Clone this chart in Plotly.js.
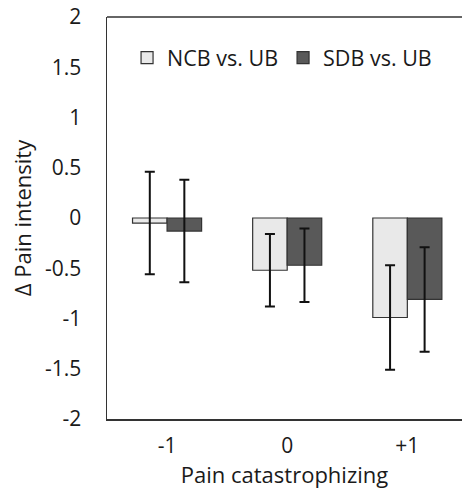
<!DOCTYPE html>
<html>
<head>
<meta charset="utf-8">
<script src="https://cdn.plot.ly/plotly-3.0.1.min.js"></script>
<style>html,body{margin:0;padding:0;background:#fff;}#chart{width:462px;height:489px;}</style>
</head>
<body>
<div id="chart"></div>
<script>
var categories = ["-1", "0", "+1"];
var seriesNames = ["NCB vs. UB", "SDB vs. UB"];
var ncbValues = [-0.05, -0.52, -0.99];
var ncbErrors = [0.51, 0.36, 0.52];
var sdbValues = [-0.13, -0.47, -0.81];
var sdbErrors = [0.51, 0.365, 0.52];
var yTicks = [-2, -1.5, -1, -0.5, 0, 0.5, 1, 1.5, 2];

var fontFam = "Open Sans, sans-serif";
var textColor = "#1a1a1a";
var errStyle = {type: "data", visible: true, thickness: 2, width: 5, color: "#111"};

var traces = [
  {type: "bar", name: seriesNames[0], x: categories, y: ncbValues,
   marker: {color: "#e9e9e9", line: {color: "#333", width: 1.2}},
   error_y: Object.assign({array: ncbErrors}, errStyle)},
  {type: "bar", name: seriesNames[1], x: categories, y: sdbValues,
   marker: {color: "#595959", line: {color: "#333", width: 1.2}},
   error_y: Object.assign({array: sdbErrors}, errStyle)}
];

var layout = {
  width: 462, height: 489,
  margin: {l: 107, r: 0, t: 17, b: 70},
  paper_bgcolor: "#fff", plot_bgcolor: "#fff",
  font: {family: fontFam, size: 21, color: textColor},
  barmode: "group", bargap: 0.425, bargroupgap: 0,
  showlegend: true,
  legend: {orientation: "h", x: 0.0565, xanchor: "left", y: 0.899, yanchor: "middle",
           font: {family: fontFam, size: 21.5, color: textColor}, bgcolor: "rgba(0,0,0,0)",
           traceorder: "normal", itemwidth: 30},
  xaxis: {type: "category", range: [-0.5, 2.455], showline: true, linecolor: "#333", linewidth: 1.5,
          ticks: "outside", ticklen: 7, tickcolor: "rgba(0,0,0,0)", showgrid: false, zeroline: false,
          tickfont: {family: fontFam, size: 21, color: textColor},
          automargin: false,
          title: {text: "Pain catastrophizing", font: {family: fontFam, size: 22, color: textColor}, standoff: 2},
          fixedrange: true},
  yaxis: {range: [-2, 2], tickvals: yTicks, ticktext: yTicks.map(String), showline: true, linecolor: "#333", linewidth: 1.5,
          ticks: "outside", ticklen: 20, tickcolor: "rgba(0,0,0,0)", showgrid: false, zeroline: false,
          tickfont: {family: fontFam, size: 21, color: textColor},
          automargin: false,
          title: {text: "Δ Pain intensity", font: {family: fontFam, size: 22, color: textColor}, standoff: 7},
          fixedrange: true},
  shapes: [{type: "line", xref: "paper", yref: "paper", x0: 0, x1: 1, y0: 1, y1: 1, line: {color: "#333", width: 1.5}}]
};

Plotly.newPlot("chart", traces, layout, {staticPlot: true, displayModeBar: false});
</script>
</body>
</html>
